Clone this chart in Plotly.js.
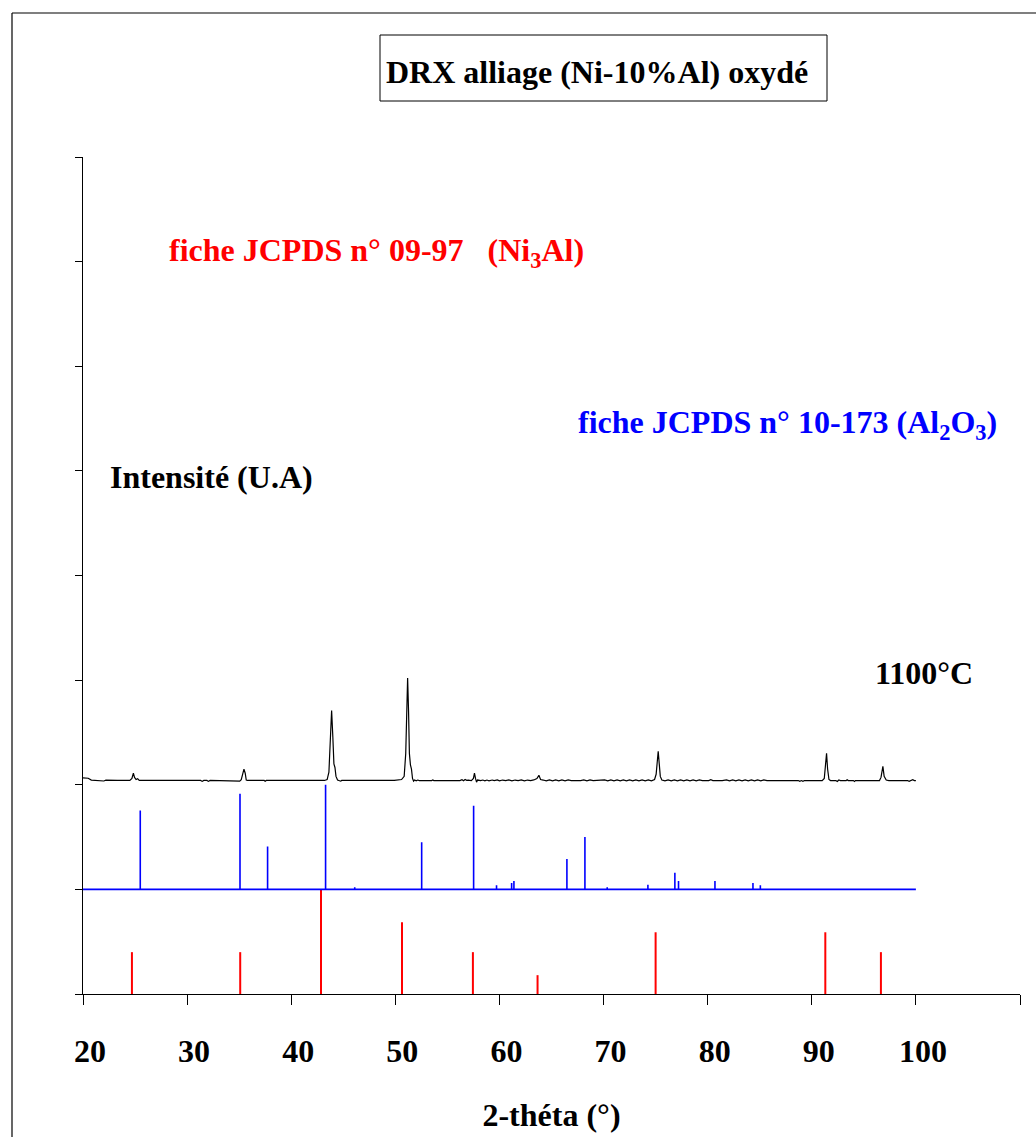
<!DOCTYPE html>
<html>
<head>
<meta charset="utf-8">
<script src="https://cdn.plot.ly/plotly-3.0.1.min.js"></script>
<style>html,body{margin:0;padding:0;background:#fff;}#chart{width:1036px;height:1137px;}</style>
</head>
<body>
<div id="chart"></div>
<script>
// ---- Data ----
// Measured pattern (offset band 2..3)
const blackX = [20.0,20.5,20.8,21.8,22.0,22.2,22.5,22.7,22.9,23.1,23.3,24.5,24.7,24.84,24.95,25.1,25.25,25.4,31.3,31.45,31.6,31.9,32.05,32.2,34.9,35.05,35.2,35.35,35.46,35.58,35.68,35.8,37.4,37.5,37.6,43.2,43.45,43.62,43.75,43.88,44.0,44.1,44.2,44.3,44.45,44.6,44.75,44.85,45.85,45.95,46.05,49.0,49.15,49.3,49.45,49.6,49.75,49.9,50.6,50.85,51.0,51.1,51.18,51.27,51.35,51.45,51.55,51.65,51.75,51.85,52.0,52.15,52.3,53.5,53.6,53.7,55.3,55.4,55.5,56.2,56.4,56.55,56.7,56.85,57.0,57.3,57.5,57.6,57.7,57.8,57.9,58.2,58.4,58.6,58.8,59.0,59.3,59.5,59.8,60.0,60.3,60.6,60.9,61.2,61.5,61.8,62.1,62.4,62.7,63.0,63.3,63.6,63.79,63.95,64.2,64.5,64.8,65.1,65.4,65.7,66.0,66.3,66.6,66.9,67.8,68.1,68.4,68.7,69.0,69.8,70.1,70.4,70.7,71.0,71.3,71.6,71.9,72.2,72.5,72.8,73.1,73.4,73.7,74.0,74.3,74.6,74.9,75.05,75.15,75.25,75.35,75.45,75.6,75.9,76.2,76.5,76.8,77.1,77.4,77.7,78.0,78.3,78.6,78.9,79.2,79.5,80.1,80.3,80.5,81.0,81.2,81.4,81.8,82.1,82.4,82.7,83.0,83.3,83.6,83.9,84.2,84.5,84.8,85.1,85.4,85.7,88.7,88.85,89.0,89.15,89.3,91.0,91.2,91.32,91.42,91.52,91.65,91.8,92.3,92.45,92.6,92.75,93.3,93.4,93.5,94.0,94.1,94.2,96.5,96.65,96.83,96.95,97.05,97.15,97.4,99.2,99.35,99.5,99.7,99.85,100.0];
const blackY = [2.065,2.062,2.045,2.043,2.036,2.044,2.043,2.037,2.043,2.037,2.042,2.042,2.06,2.11,2.07,2.05,2.058,2.042,2.041,2.032,2.041,2.041,2.032,2.041,2.041,2.034,2.048,2.11,2.15,2.11,2.045,2.041,2.041,2.033,2.041,2.041,2.05,2.12,2.45,2.71,2.45,2.2,2.165,2.08,2.045,2.041,2.034,2.041,2.041,2.034,2.041,2.041,2.035,2.041,2.035,2.041,2.035,2.041,2.05,2.08,2.3,2.8,3.02,2.7,2.3,2.19,2.15,2.06,2.035,2.045,2.038,2.045,2.04,2.04,2.046,2.04,2.04,2.046,2.04,2.04,2.048,2.038,2.05,2.042,2.045,2.04,2.06,2.11,2.06,2.025,2.045,2.04,2.045,2.038,2.045,2.038,2.045,2.04,2.046,2.038,2.045,2.04,2.046,2.038,2.045,2.04,2.046,2.038,2.045,2.04,2.046,2.06,2.09,2.05,2.045,2.038,2.046,2.038,2.046,2.038,2.046,2.038,2.046,2.04,2.04,2.046,2.038,2.046,2.04,2.04,2.046,2.038,2.046,2.038,2.046,2.038,2.046,2.038,2.046,2.038,2.046,2.038,2.046,2.038,2.046,2.038,2.05,2.1,2.25,2.32,2.2,2.08,2.045,2.038,2.046,2.038,2.046,2.038,2.046,2.038,2.046,2.038,2.046,2.038,2.046,2.04,2.04,2.048,2.04,2.04,2.034,2.04,2.046,2.038,2.046,2.038,2.046,2.038,2.046,2.038,2.046,2.038,2.046,2.038,2.046,2.04,2.04,2.032,2.04,2.032,2.04,2.04,2.06,2.2,2.30,2.15,2.05,2.04,2.04,2.032,2.046,2.04,2.04,2.048,2.04,2.04,2.032,2.04,2.04,2.07,2.175,2.08,2.06,2.045,2.04,2.04,2.032,2.04,2.048,2.04,2.04];

// JCPDS 10-173 (Al2O3) reference lines, offset band 1..2
const al2o3Base = 1;
const al2o3Pos = [25.5,35.08,37.73,43.3,46.1,52.53,57.52,59.72,61.17,61.39,66.48,68.21,70.35,74.26,76.85,77.2,80.7,84.35,85.06];
const al2o3Int = [0.755,0.915,0.41,1.0,0.02,0.45,0.80,0.04,0.06,0.08,0.29,0.50,0.02,0.045,0.16,0.08,0.08,0.06,0.04];
const al2o3Start = 20, al2o3End = 100;

// JCPDS 09-97 (Ni3Al) reference lines, band 0..1
const ni3alPos = [24.7,35.1,42.86,50.64,57.45,63.66,75.0,91.3,96.64];
const ni3alInt = [0.40,0.40,1.0,0.685,0.40,0.18,0.59,0.59,0.40];

// Axis ticks
const xTickVals = [20,30,40,50,60,70,80,90,100];
const xTickText = ["20","30","40","50","60","70","80","90","100"];
const xExtraTick = [110];
const yTickVals = [0,1,2,3,4,5,6,7,8];

// ---- Build stick traces ----
const blueX = [al2o3Start], blueY = [al2o3Base];
al2o3Pos.forEach((p,i)=>{ blueX.push(p,p,p); blueY.push(al2o3Base, al2o3Base+al2o3Int[i], al2o3Base); });
blueX.push(al2o3End); blueY.push(al2o3Base);

const redX = [], redY = [];
ni3alPos.forEach((p,i)=>{ redX.push(p,p,null); redY.push(0, ni3alInt[i], null); });

const serif = "Liberation Serif, Times New Roman, serif";
const FS = 32;

const traces = [
  {x: redX, y: redY, mode:'lines', line:{color:'#ff0000', width:2}, hoverinfo:'skip', showlegend:false},
  {x: blueX, y: blueY, mode:'lines', line:{color:'#0000ff', width:1.6}, hoverinfo:'skip', showlegend:false},
  {x: blackX, y: blackY, mode:'lines', line:{color:'#000000', width:1.2}, hoverinfo:'skip', showlegend:false}
];

// pixel helpers for annotation placement (plot area 83..1020 x, 157..994 y)
const px = v => (v-83)/937;
const py = v => (994-v)/837;

const layout = {
  width:1036, height:1137,
  margin:{l:83, r:16, t:157, b:143},
  paper_bgcolor:'#ffffff', plot_bgcolor:'#ffffff',
  showlegend:false,
  font:{family:serif, color:'#000'},
  xaxis:{
    range:[20,110], tickmode:'array', tickvals:xTickVals, ticktext:xTickText,
    ticks:'outside', ticklen:10, tickcolor:'#000', tickwidth:1,
    minor:{tickmode:'array', tickvals:xExtraTick, ticks:'outside', ticklen:10, tickcolor:'#000', tickwidth:1, showgrid:false},
    showline:true, linecolor:'#000', linewidth:1.2, showgrid:false, zeroline:false,
    tickfont:{family:serif, size:FS, color:'#000', weight:'bold'},
    ticklabelshift:7, ticklabelstandoff:18,
    title:{text:'<b>2-théta (°)</b>', font:{family:serif, size:FS, color:'#000'}, standoff:36}
  },
  yaxis:{
    range:[0,8], tickmode:'array', tickvals:yTickVals, showticklabels:false,
    ticks:'outside', ticklen:7, tickcolor:'#000', tickwidth:1,
    showline:true, linecolor:'#000', linewidth:1.2, showgrid:false, zeroline:false
  },
  shapes:[
    {type:'rect', xref:'paper', yref:'paper', x0:px(380), x1:px(827), y0:py(101), y1:py(35), line:{color:'#000', width:1}, fillcolor:'rgba(0,0,0,0)'},
    {type:'line', xref:'paper', yref:'paper', x0:px(12), x1:px(1040), y0:py(13), y1:py(13), line:{color:'#000', width:1.2}},
    {type:'line', xref:'paper', yref:'paper', x0:px(12), x1:px(12), y0:py(13), y1:py(1140), line:{color:'#000', width:1.2}}
  ],
  annotations:[
    {xref:'paper', yref:'paper', x:px(597), y:py(72), xanchor:'center', yanchor:'middle', showarrow:false,
     text:'<b>DRX alliage (Ni-10%Al) oxydé</b>', font:{family:serif, size:FS, color:'#000'}},
    {xref:'paper', yref:'paper', x:px(167), y:py(252), xanchor:'left', yanchor:'middle', showarrow:false,
     text:'<b>fiche JCPDS n° 09-97\u00A0\u00A0\u00A0(Ni<sub>3</sub>Al)</b>', font:{family:serif, size:FS, color:'#ff0000'}},
    {xref:'paper', yref:'paper', x:px(576), y:py(425), xanchor:'left', yanchor:'middle', showarrow:false,
     text:'<b>fiche JCPDS n° 10-173 (Al<sub>2</sub>O<sub>3</sub>)</b>', font:{family:serif, size:FS, color:'#0000ff'}},
    {xref:'paper', yref:'paper', x:px(108), y:py(477), xanchor:'left', yanchor:'middle', showarrow:false,
     text:'<b>Intensité (U.A)</b>', font:{family:serif, size:FS, color:'#000'}},
    {xref:'paper', yref:'paper', x:px(873), y:py(673), xanchor:'left', yanchor:'middle', showarrow:false,
     text:'<b>1100°C</b>', font:{family:serif, size:FS, color:'#000'}}
  ]
};

Plotly.newPlot('chart', traces, layout, {staticPlot:true, displayModeBar:false});
</script>
</body>
</html>
